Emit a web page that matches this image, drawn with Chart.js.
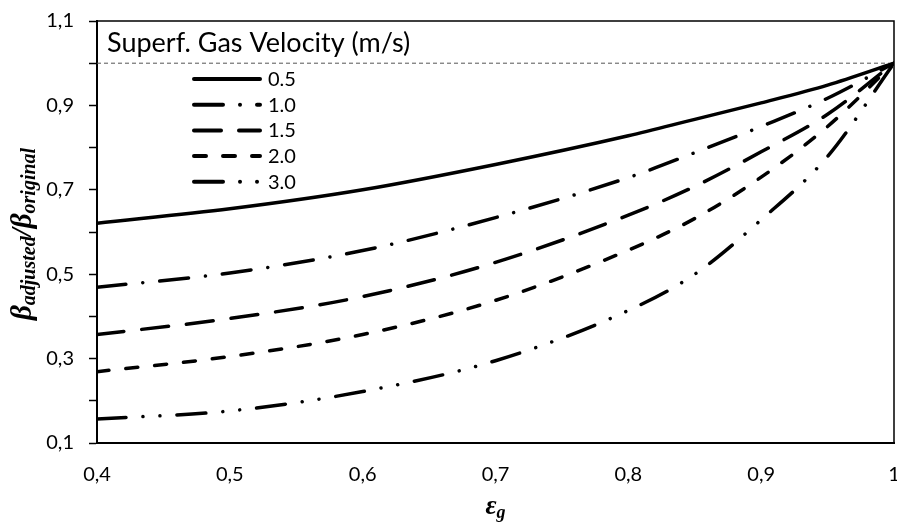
<!DOCTYPE html>
<html>
<head>
<meta charset="utf-8">
<script src="https://cdn.jsdelivr.net/npm/chart.js@4/dist/chart.umd.min.js"></script>
<style>
  html, body { margin: 0; padding: 0; background: #ffffff; }
  #wrap { width: 897px; height: 530px; }
</style>
</head>
<body>
<div id="wrap"><canvas id="c" width="897" height="530"></canvas></div>
<script>
// ---- data ----
const xValues = [0.4, 0.5, 0.6, 0.7, 0.8, 0.85, 0.9, 0.95, 1.0];
const v05 = [0.621, 0.655, 0.700, 0.760, 0.828, 0.867, 0.906, 0.948, 1.0];
const v10 = [0.469, 0.503, 0.556, 0.634, 0.729, 0.788, 0.850, 0.917, 1.0];
const v15 = [0.357, 0.395, 0.447, 0.528, 0.640, 0.708, 0.790, 0.879, 1.0];
const v20 = [0.269, 0.305, 0.357, 0.438, 0.557, 0.632, 0.730, 0.850, 1.0];
const v30 = [0.157, 0.176, 0.222, 0.295, 0.414, 0.500, 0.629, 0.779, 1.0];
const refX = [0.4, 1.0];
const refY = [1.0, 1.0];
const seriesNames = ['0.5', '1.0', '1.5', '2.0', '3.0'];
const legendTitle = 'Superf. Gas Velocity (m/s)';
const xTickLabels = ['0,4', '0,5', '0,6', '0,7', '0,8', '0,9', '1'];
const yTickLabels = ['0,1', '', '0,3', '', '0,5', '', '0,7', '', '0,9', '', '1,1'];

// ---- styles ----
const dashes = [[], [29, 17, 0.01, 17], [27, 18], [12, 17], [29, 17, 0.01, 17, 0.01, 17]];
const seriesValues = [v05, v10, v15, v20, v30];
const toXY = (xs, ys) => xs.map((x, i) => ({ x: x, y: ys[i] }));

const datasets = seriesValues.map((vals, i) => ({
  label: seriesNames[i],
  data: toXY(xValues, vals),
  borderColor: '#000000',
  borderWidth: 3.5,
  borderDash: dashes[i],
  borderCapStyle: 'round',
  borderJoinStyle: 'round',
  pointRadius: 0,
  cubicInterpolationMode: 'monotone',
  fill: false,
  order: 1
}));
datasets.push({
  label: 'ref',
  data: toXY(refX, refY),
  borderColor: '#555555',
  borderWidth: 1,
  borderDash: [4, 3],
  pointRadius: 0,
  fill: false,
  order: 10
});

function zeroPad(s) { s.paddingLeft = 0; s.paddingRight = 0; s.paddingTop = 0; s.paddingBottom = 0; }

const overlay = {
  id: 'overlay',
  afterDraw(chart) {
    const ctx = chart.ctx;
    const a = chart.chartArea;
    ctx.save();
    // frame top/right
    ctx.strokeStyle = '#000';
    ctx.lineWidth = 1.5;
    ctx.setLineDash([]);
    ctx.beginPath();
    ctx.moveTo(a.left, a.top);
    ctx.lineTo(a.right, a.top);
    ctx.lineTo(a.right, a.bottom);
    ctx.stroke();

    // legend
    ctx.fillStyle = '#000';
    ctx.textAlign = 'left';
    ctx.textBaseline = 'alphabetic';
    ctx.font = '27px Lato';
    ctx.fillText(legendTitle, a.left + 10, a.top + 31);
    ctx.font = '20px Lato';
    for (let i = 0; i < seriesNames.length; i++) {
      const y = a.top + 58 + i * 25.7;
      ctx.beginPath();
      ctx.lineWidth = 4;
      ctx.lineCap = 'round';
      ctx.setLineDash(dashes[i]);
      ctx.lineDashOffset = 0;
      ctx.moveTo(a.left + 97, y);
      ctx.lineTo(a.left + 163, y);
      ctx.stroke();
      ctx.setLineDash([]);
      ctx.fillText(seriesNames[i], a.left + 171, y + 7);
    }

    // x axis title: epsilon_g
    const cx = (a.left + a.right) / 2;
    ctx.font = 'bold italic 27px "Liberation Serif"';
    const wE = ctx.measureText('\u03B5').width;
    ctx.font = 'bold italic 18px "Liberation Serif"';
    const wG = ctx.measureText('g').width;
    const x0 = cx - (wE + wG) / 2;
    ctx.font = 'bold italic 27px "Liberation Serif"';
    ctx.fillText('\u03B5', x0, 514);
    ctx.font = 'bold italic 18px "Liberation Serif"';
    ctx.fillText('g', x0 + wE, 518);

    // y axis title: beta_adjusted / beta_original (rotated)
    const parts = [
      { t: '\u03B2', f: 'bold italic 29px "Liberation Serif"', dy: 0 },
      { t: 'adjusted', f: 'bold italic 20px "Liberation Serif"', dy: 4 },
      { t: '/', f: 'bold italic 29px "Liberation Serif"', dy: 0 },
      { t: '\u03B2', f: 'bold italic 29px "Liberation Serif"', dy: 0 },
      { t: 'original', f: 'bold italic 20px "Liberation Serif"', dy: 4 }
    ];
    let total = 0;
    parts.forEach(p => { ctx.font = p.f; p.w = ctx.measureText(p.t).width; total += p.w; });
    ctx.translate(31, (a.top + a.bottom) / 2 + 2);
    ctx.rotate(-Math.PI / 2);
    let px = -total / 2;
    parts.forEach(p => {
      ctx.font = p.f;
      ctx.fillText(p.t, px, p.dy);
      px += p.w;
    });
    ctx.restore();
  }
};

new Chart(document.getElementById('c'), {
  type: 'line',
  data: { datasets: datasets },
  options: {
    responsive: false,
    animation: false,
    devicePixelRatio: 1,
    layout: { padding: { left: 0, right: 3, top: 21, bottom: 0 }, autoPadding: false },
    plugins: { legend: { display: false }, tooltip: { enabled: false }, title: { display: false } },
    scales: {
      x: {
        type: 'linear',
        min: 0.4, max: 1.0,
        afterFit(s) { s.height = 87; zeroPad(s); },
        ticks: {
          stepSize: 0.1,
          color: '#000',
          font: { family: 'Lato', size: 20 },
          padding: 20,
          maxRotation: 0,
          autoSkip: false,
          callback: (v, i) => xTickLabels[i]
        },
        grid: { display: true, drawOnChartArea: false, drawTicks: false },
        border: { display: true, color: '#000', width: 2 }
      },
      y: {
        type: 'linear',
        min: 0.1, max: 1.1,
        afterFit(s) { s.width = 97; zeroPad(s); },
        ticks: {
          stepSize: 0.1,
          color: '#000',
          font: { family: 'Lato', size: 20 },
          padding: 15,
          autoSkip: false,
          callback: (v, i) => yTickLabels[i]
        },
        grid: { display: true, drawOnChartArea: false, drawTicks: true, tickLength: 8, color: '#000', tickWidth: 1.5 },
        border: { display: true, color: '#000', width: 2 }
      }
    }
  },
  plugins: [overlay]
});
</script>
</body>
</html>
